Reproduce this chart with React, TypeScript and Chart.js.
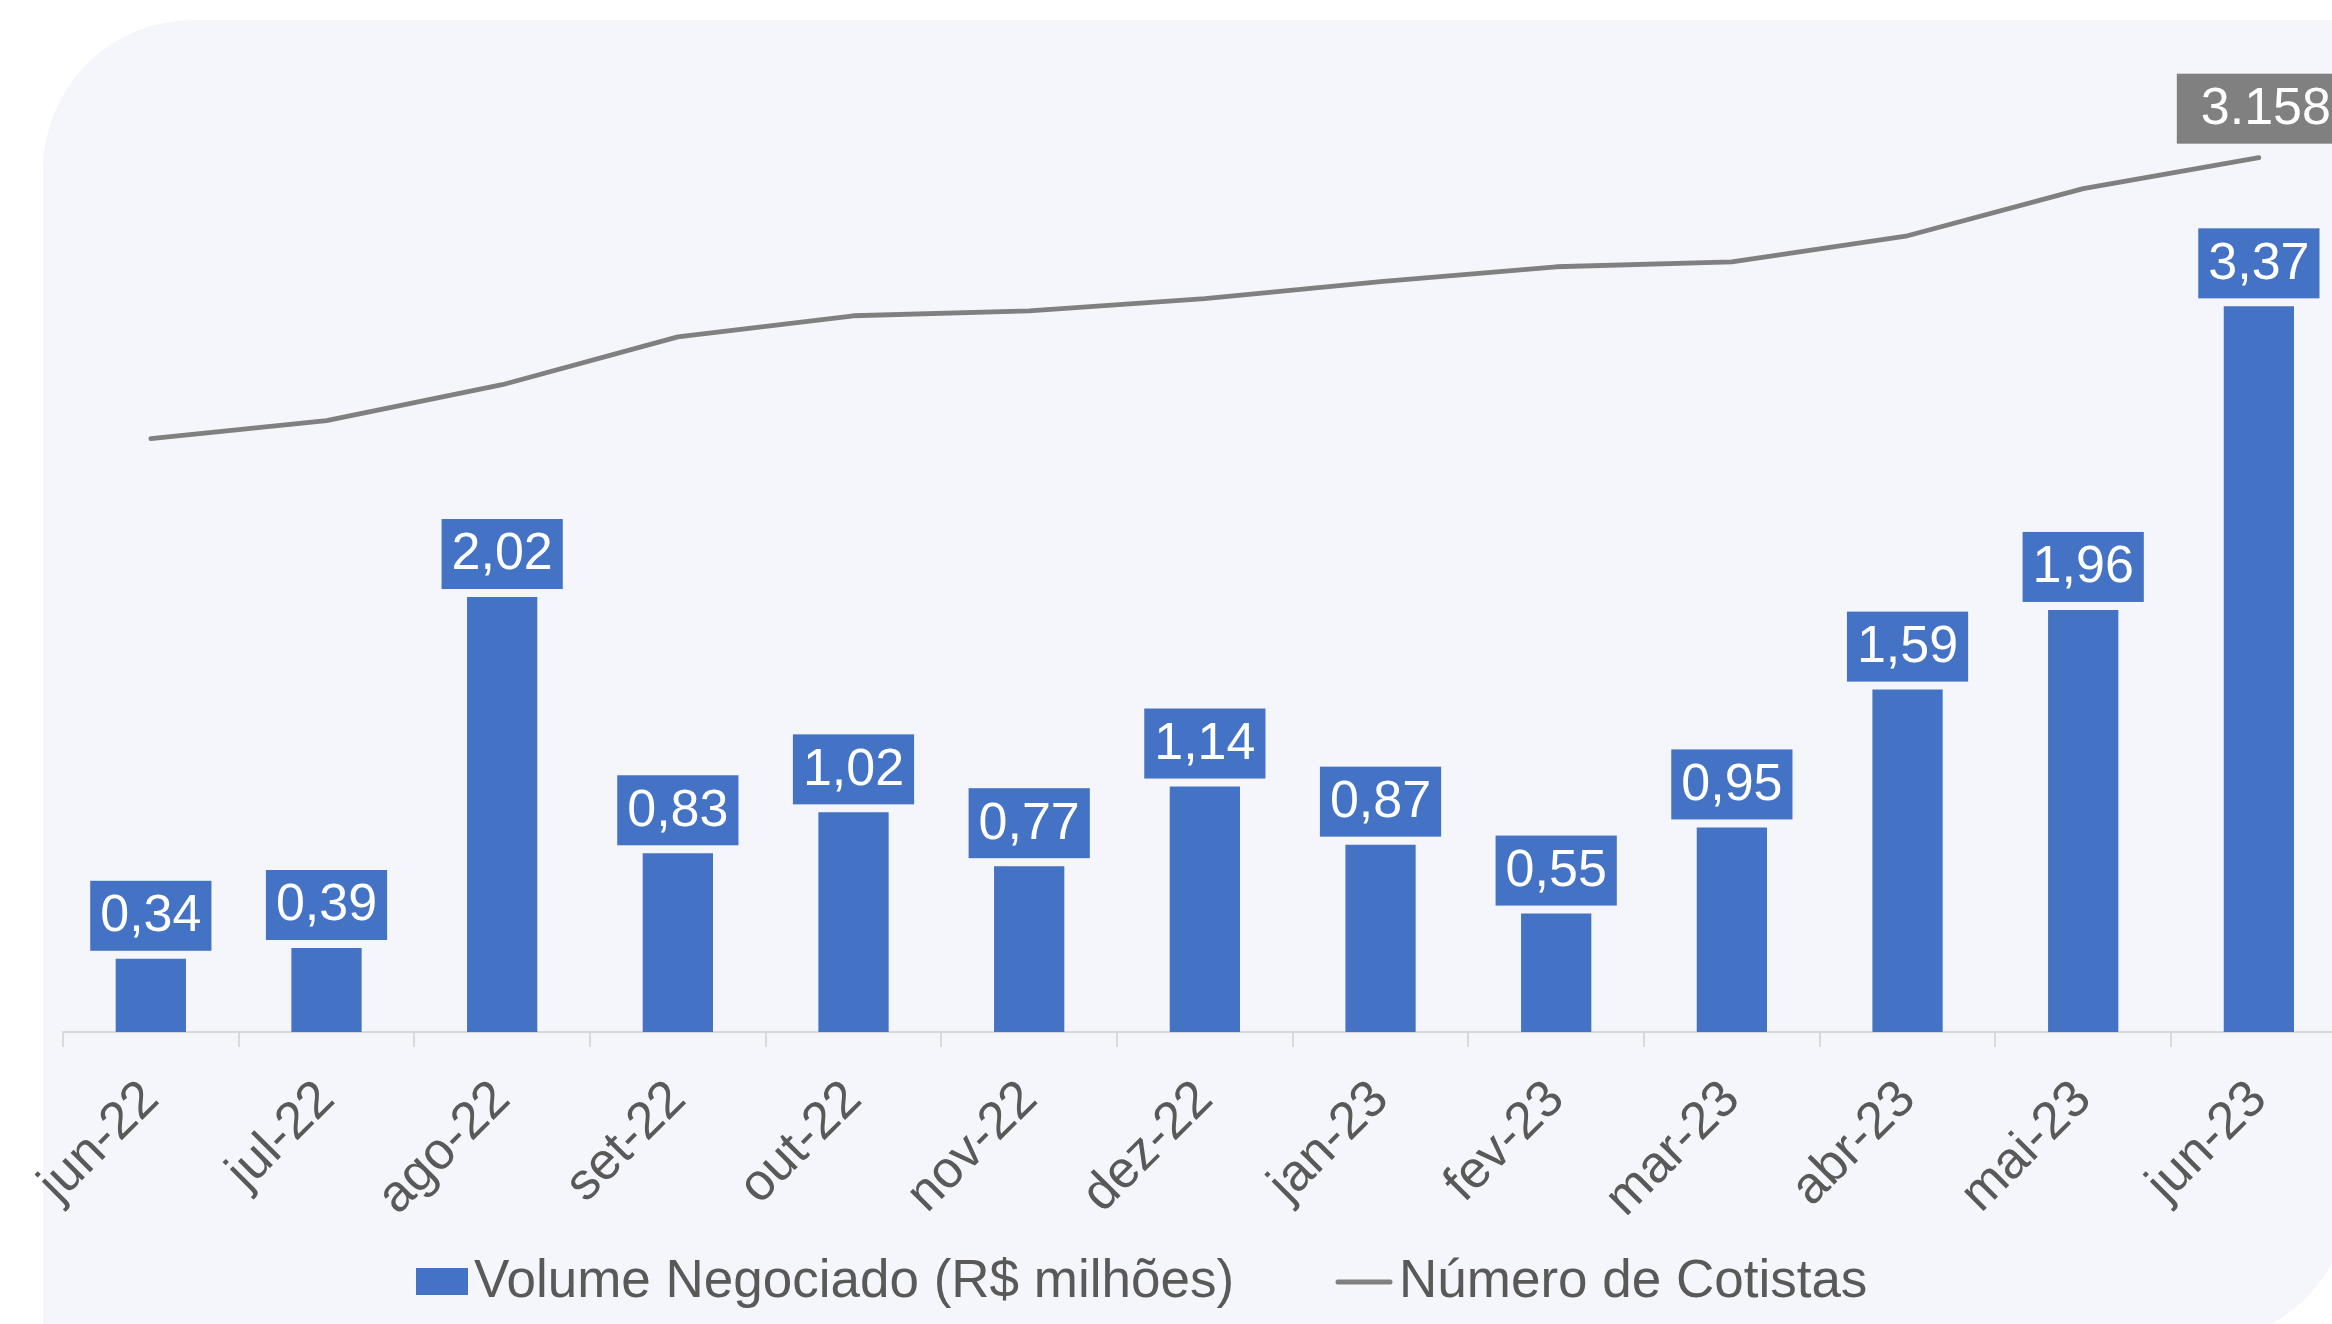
import React, { useEffect, useRef } from 'react';
import { Chart, registerables } from 'chart.js';
Chart.register(...registerables);

const categories = ['jun-22', 'jul-22', 'ago-22', 'set-22', 'out-22', 'nov-22', 'dez-22', 'jan-23', 'fev-23', 'mar-23', 'abr-23', 'mai-23', 'jun-23'];
const volume = [0.34, 0.39, 2.02, 0.83, 1.02, 0.77, 1.14, 0.87, 0.55, 0.95, 1.59, 1.96, 3.37];
const cotistas = [2143, 2208, 2338, 2511, 2587, 2605, 2649, 2710, 2764, 2782, 2876, 3046, 3158];
const seriesNames = ['Volume Negociado (R$ milhões)', 'Número de Cotistas'];

const FONT = "'Liberation Sans', Arial, sans-serif";
const BLUE = '#4472C4';
const GRAY = '#808080';
const TEXT = '#595959';
const BG = '#F4F6FB';
const W = 2400;
const H = 1324;

const bgPlugin = {
  id: 'bgPlugin',
  beforeDraw(chart: any) {
    const ctx = chart.ctx;
    ctx.save();
    ctx.fillStyle = BG;
    ctx.beginPath();
    ctx.roundRect(43, 20, 2307, 1322, [150, 0, 150, 0]);
    ctx.fill();
    ctx.restore();
  },
};

const labelPlugin = {
  id: 'labelPlugin',
  afterDatasetsDraw(chart: any) {
    const ctx = chart.ctx;
    ctx.save();
    ctx.font = `52px ${FONT}`;
    ctx.textAlign = 'center';
    ctx.textBaseline = 'middle';
    // bar labels
    const barMeta = chart.getDatasetMeta(1);
    barMeta.data.forEach((el: any, i: number) => {
      const txt = volume[i].toFixed(2).replace('.', ',');
      const tw = ctx.measureText(txt).width;
      const bw = tw + 20;
      const bh = 70;
      const bx = el.x - bw / 2;
      const by = el.y - 8 - bh;
      ctx.fillStyle = BLUE;
      ctx.fillRect(bx, by, bw, bh);
      ctx.fillStyle = '#FFFFFF';
      ctx.fillText(txt, el.x, by + bh / 2 + 1);
    });
    // last line point label
    const lineMeta = chart.getDatasetMeta(0);
    const last = lineMeta.data.length - 1;
    const p = lineMeta.data[last];
    const txt = cotistas[last].toLocaleString('de-DE');
    const tw = ctx.measureText(txt).width;
    const bw = tw + 48;
    const bh = 70;
    const cx = p.x + 7;
    const by = p.y - 14 - bh;
    ctx.fillStyle = GRAY;
    ctx.fillRect(cx - bw / 2, by, bw, bh);
    ctx.fillStyle = '#FFFFFF';
    ctx.fillText(txt, cx, by + bh / 2 + 1);
    ctx.restore();
  },
};

const legendPlugin = {
  id: 'legendPlugin',
  afterDraw(chart: any) {
    const ctx = chart.ctx;
    ctx.save();
    ctx.font = `53px ${FONT}`;
    ctx.textAlign = 'left';
    ctx.textBaseline = 'middle';
    const y = 1282;
    ctx.fillStyle = BLUE;
    ctx.fillRect(416, 1268, 52, 27);
    ctx.fillStyle = TEXT;
    ctx.fillText(seriesNames[0], 474, y);
    ctx.strokeStyle = GRAY;
    ctx.lineWidth = 5;
    ctx.lineCap = 'round';
    ctx.beginPath();
    ctx.moveTo(1338, 1282);
    ctx.lineTo(1390, 1282);
    ctx.stroke();
    ctx.fillStyle = TEXT;
    ctx.fillText(seriesNames[1], 1399, y);
    ctx.restore();
  },
};

export default function App() {
  const ref = useRef<HTMLCanvasElement>(null);
  useEffect(() => {
    document.body.style.margin = '0';
    document.body.style.overflow = 'hidden';
    document.documentElement.style.overflow = 'hidden';
    const chart = new Chart(ref.current!, {
      type: 'bar',
      data: {
        labels: categories,
        datasets: [
          {
            type: 'line',
            label: seriesNames[1],
            data: cotistas,
            yAxisID: 'y2',
            borderColor: GRAY,
            backgroundColor: GRAY,
            borderWidth: 4.8,
            borderCapStyle: 'round',
            borderJoinStyle: 'round',
            pointRadius: 0,
            tension: 0,
            order: 0,
          } as any,
          {
            type: 'bar',
            label: seriesNames[0],
            data: volume,
            yAxisID: 'y',
            backgroundColor: BLUE,
            borderWidth: 0,
            barPercentage: 0.4,
            categoryPercentage: 1,
            order: 1,
          } as any,
        ],
      },
      options: {
        responsive: false,
        devicePixelRatio: 1,
        animation: false,
        layout: { padding: { left: 63, right: W - (63 + 13 * 175.67), top: 63, bottom: 0 } },
        plugins: { legend: { display: false }, tooltip: { enabled: false } },
        scales: {
          x: {
            type: 'category',
            offset: true,
            grid: {
              display: true,
              drawOnChartArea: false,
              drawTicks: true,
              tickLength: 15,
              color: '#D9D9D9',
              lineWidth: 2,
              offset: true,
            },
            border: { display: true, color: '#D9D9D9', width: 2 },
            ticks: {
              autoSkip: false,
              maxRotation: 45,
              minRotation: 45,
              color: TEXT,
              padding: 22,
              font: { family: FONT, size: 52 },
            },
            afterFit: (s: any) => {
              s.height = H - 1032;
            },
          },
          y: { display: false, min: 0, max: 4.5 },
          y2: { display: false, min: 0, max: 3500, position: 'right' },
        },
      } as any,
      plugins: [bgPlugin, labelPlugin, legendPlugin],
    });
    return () => chart.destroy();
  }, []);
  return (
    <div style={{ position: 'absolute', left: 0, top: 0, width: W, height: H, overflow: 'hidden' }}>
      <canvas ref={ref} width={W} height={H} style={{ width: W, height: H, display: 'block' }} />
    </div>
  );
}
